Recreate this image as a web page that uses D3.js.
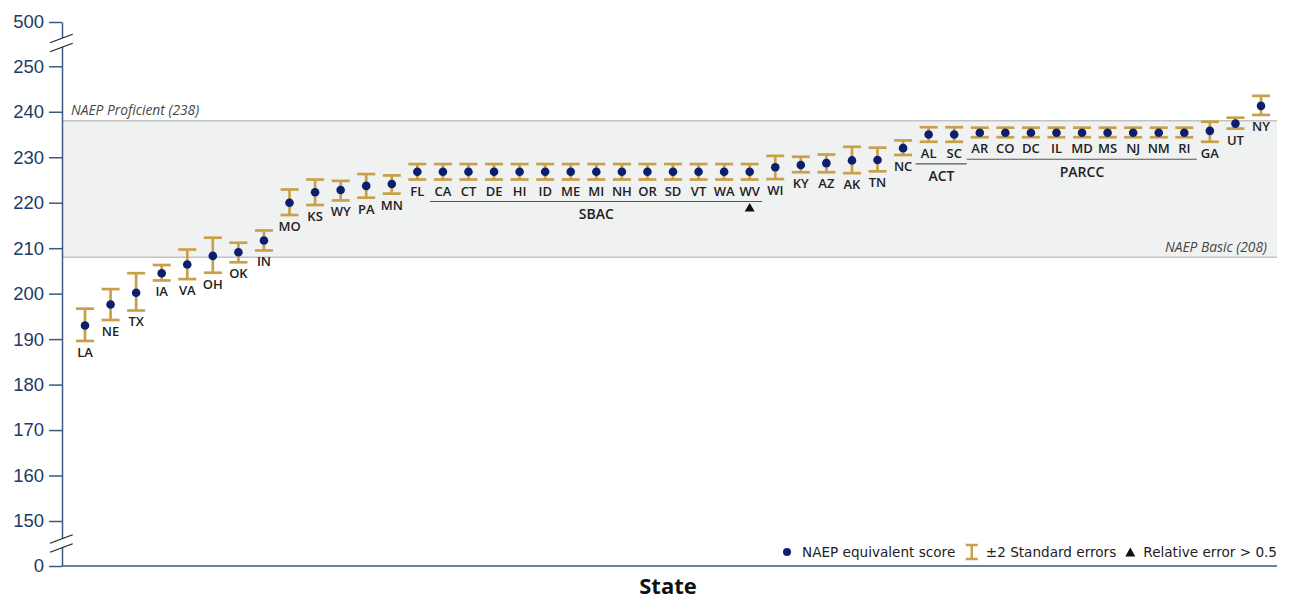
<!DOCTYPE html>
<html>
<head>
<meta charset="utf-8">
<script src="https://cdn.jsdelivr.net/npm/d3@7"></script>
<style>
  html, body { margin: 0; padding: 0; background: #fff; }
  svg { display: block; }
</style>
</head>
<body>
<svg id="chart" width="1295" height="601"></svg>
<script>
// ---- Data ----
const states = ["LA","NE","TX","IA","VA","OH","OK","IN","MO","KS","WY","PA","MN","FL",
  "CA","CT","DE","HI","ID","ME","MI","NH","OR","SD","VT","WA","WV",
  "WI","KY","AZ","AK","TN","NC","AL","SC",
  "AR","CO","DC","IL","MD","MS","NJ","NM","RI","GA","UT","NY"];
const scores = [193.0,197.6,200.2,204.5,206.4,208.3,209.1,211.7,220.0,222.3,222.8,223.7,224.1,226.8,
  226.8,226.8,226.8,226.8,226.8,226.8,226.8,226.8,226.8,226.8,226.8,226.8,226.8,
  227.8,228.3,228.7,229.3,229.4,232.0,235.0,235.0,
  235.4,235.4,235.4,235.4,235.4,235.4,235.4,235.4,235.4,235.8,237.4,241.3];
const upperSE = [196.7,201.0,204.5,206.3,209.7,212.3,211.2,213.9,222.9,225.1,224.8,226.3,226.0,228.5,
  228.5,228.5,228.5,228.5,228.5,228.5,228.5,228.5,228.5,228.5,228.5,228.5,228.5,
  230.3,230.1,230.6,232.3,232.1,233.7,236.6,236.6,
  236.5,236.5,236.5,236.5,236.5,236.5,236.5,236.5,236.5,237.8,238.7,243.5];
const lowerSE = [189.6,194.2,196.3,202.9,203.2,204.6,206.9,209.5,217.3,219.5,220.5,221.1,222.0,225.1,
  225.1,225.1,225.1,225.1,225.1,225.1,225.1,225.1,225.1,225.1,225.1,225.1,225.1,
  225.2,226.7,226.7,226.5,226.9,230.5,233.4,233.4,
  234.4,234.4,234.4,234.4,234.4,234.4,234.4,234.4,234.4,233.4,236.3,239.3];
const relErrorStates = ["WV"];
const groups = [
  {name: "SBAC", first: "CA", last: "WV"},
  {name: "ACT", first: "AL", last: "SC"},
  {name: "PARCC", first: "AR", last: "RI"}
];
const yTicks = [0,150,160,170,180,190,200,210,220,230,240,250,500];
const benchmarks = [{label: "NAEP Proficient (238)", value: 238}, {label: "NAEP Basic (208)", value: 208}];
const legendItems = ["NAEP equivalent score", "±2 Standard errors", "Relative error > 0.5"];
const xTitle = "State";

// ---- Layout ----
const svg = d3.select("#chart");
const axisX = 62, plotRight = 1277;
const y = d3.scaleLinear().domain([0,150,250,500]).range([566,521,66.3,22]);
const x = d3.scalePoint().domain(states).range([85,1261]);

const axisColor = "#3a5a80";
const textColor = "#1f3a63";
const dotColor = "#0b1f6e";
const errColor = "#c9a04a";
const labelFont = "'Open Sans', sans-serif";

// Band
svg.append("rect")
  .attr("x", axisX).attr("width", plotRight - axisX)
  .attr("y", y(238)).attr("height", y(208) - y(238))
  .attr("fill", "#f0f1f1");
benchmarks.forEach(b => {
  svg.append("line").attr("x1", axisX).attr("x2", plotRight)
    .attr("y1", y(b.value)).attr("y2", y(b.value))
    .attr("stroke", "#c2c4c4").attr("stroke-width", 1.5);
});
svg.append("text").attr("x", 71).attr("y", y(238) - 5.5)
  .attr("font-family", labelFont).attr("font-style", "italic").attr("font-size", 13.8)
  .attr("fill", "#474747").text(benchmarks[0].label);
svg.append("text").attr("x", 1267).attr("y", y(208) - 5)
  .attr("text-anchor", "end")
  .attr("font-family", labelFont).attr("font-style", "italic").attr("font-size", 13.8)
  .attr("fill", "#474747").text(benchmarks[1].label);

// Y axis
const yAxis = d3.axisLeft(y).tickValues(yTicks).tickSize(13).tickSizeOuter(0).tickPadding(5);
const gy = svg.append("g").attr("transform", `translate(${axisX},0)`).call(yAxis);
gy.select(".domain").attr("stroke", axisColor).attr("stroke-width", 1.5);
gy.selectAll(".tick line").attr("stroke", axisColor).attr("stroke-width", 1.5);
gy.selectAll(".tick text").attr("font-family", "'Liberation Sans', Arial, sans-serif")
  .attr("font-size", 18.5).attr("fill", textColor);

// X baseline
svg.append("line").attr("x1", axisX).attr("x2", plotRight)
  .attr("y1", y(0)).attr("y2", y(0))
  .attr("stroke", axisColor).attr("stroke-width", 1.5);

// Axis breaks
function axisBreak(cy) {
  const pts = [[50, cy + 4.3], [72.7, cy - 4.3], [72.7, cy + 4.7], [50, cy + 13.3]];
  svg.append("polygon").attr("points", pts.map(p => p.join(",")).join(" ")).attr("fill", "#fff");
  svg.append("line").attr("x1", pts[0][0]).attr("y1", pts[0][1]).attr("x2", pts[1][0]).attr("y2", pts[1][1])
    .attr("stroke", "#222").attr("stroke-width", 1.2);
  svg.append("line").attr("x1", pts[3][0]).attr("y1", pts[3][1]).attr("x2", pts[2][0]).attr("y2", pts[2][1])
    .attr("stroke", "#222").attr("stroke-width", 1.2);
}
axisBreak(38.5);
axisBreak(539);

// Error bars and dots
const data = states.map((s, i) => ({state: s, score: scores[i], hi: upperSE[i], lo: lowerSE[i]}));
const capW = 9;
const eg = svg.append("g");
data.forEach(d => {
  const cx = x(d.state);
  const g = eg.append("g").attr("stroke", errColor).attr("stroke-width", 2.7).attr("fill", "none");
  g.append("line").attr("x1", cx).attr("x2", cx).attr("y1", y(d.hi)).attr("y2", y(d.lo));
  g.append("line").attr("x1", cx - capW).attr("x2", cx + capW).attr("y1", y(d.hi)).attr("y2", y(d.hi));
  g.append("line").attr("x1", cx - capW).attr("x2", cx + capW).attr("y1", y(d.lo)).attr("y2", y(d.lo));
});
svg.append("g").selectAll("circle").data(data).join("circle")
  .attr("cx", d => x(d.state)).attr("cy", d => y(d.score)).attr("r", 4.3)
  .attr("fill", dotColor);

// State labels
svg.append("g").selectAll("text").data(data).join("text")
  .attr("x", d => x(d.state)).attr("y", d => y(d.lo) + 16)
  .attr("text-anchor", "middle")
  .attr("font-family", labelFont).attr("font-weight", 600).attr("font-size", 13)
  .attr("fill", "#222").text(d => d.state);

// Group brackets
groups.forEach(gr => {
  const i0 = states.indexOf(gr.first), i1 = states.indexOf(gr.last);
  const x0 = x(gr.first) - 13, x1 = x(gr.last) + 12.5;
  const base = d3.max(data.slice(i0, i1 + 1), d => y(d.lo)) + 16 + 6;
  svg.append("line").attr("x1", x0).attr("x2", x1).attr("y1", base).attr("y2", base)
    .attr("stroke", "#555").attr("stroke-width", 1.2);
  svg.append("text").attr("x", (x(gr.first) + x(gr.last)) / 2).attr("y", base + 17.5)
    .attr("text-anchor", "middle")
    .attr("font-family", labelFont).attr("font-weight", 600).attr("font-size", 14)
    .attr("fill", "#222").text(gr.name);
  relErrorStates.forEach(s => {
    const k = states.indexOf(s);
    if (k >= i0 && k <= i1) {
      const tx = x(s), ty = base + 6;
      svg.append("path").attr("d", `M${tx - 5},${ty + 4}L${tx + 5},${ty + 4}L${tx},${ty - 4.5}Z`)
        .attr("fill", "#111");
    }
  });
});

// Legend (laid out right to left)
const legY = 552;
const legFont = "'DejaVu Sans', Verdana, sans-serif";
let cursor = plotRight;
const lg = svg.append("g");
function legText(str) {
  const t = lg.append("text").attr("x", cursor).attr("y", legY + 5).attr("text-anchor", "end")
    .attr("font-family", legFont).attr("font-size", 13.6).attr("fill", "#222").text(str);
  const w = t.node().getComputedTextLength();
  cursor -= w;
}
legText(legendItems[2]);
cursor -= 13;
lg.append("path").attr("d", `M${cursor - 5},${legY + 4.5}L${cursor + 5},${legY + 4.5}L${cursor},${legY - 4.5}Z`).attr("fill", "#111");
cursor -= 14;
legText(legendItems[1]);
cursor -= 14;
{
  const gx = cursor;
  const g = lg.append("g").attr("stroke", errColor).attr("stroke-width", 2.5);
  g.append("line").attr("x1", gx).attr("x2", gx).attr("y1", legY - 7).attr("y2", legY + 7);
  g.append("line").attr("x1", gx - 6).attr("x2", gx + 6).attr("y1", legY - 7).attr("y2", legY - 7);
  g.append("line").attr("x1", gx - 6).attr("x2", gx + 6).attr("y1", legY + 7).attr("y2", legY + 7);
}
cursor -= 16.5;
legText(legendItems[0]);
cursor -= 15;
lg.append("circle").attr("cx", cursor).attr("cy", legY).attr("r", 4).attr("fill", dotColor);

// X title
svg.append("text").attr("x", 668).attr("y", 594)
  .attr("text-anchor", "middle")
  .attr("font-family", labelFont).attr("font-weight", 700).attr("font-size", 22)
  .attr("fill", "#111").text(xTitle);
</script>
</body>
</html>
